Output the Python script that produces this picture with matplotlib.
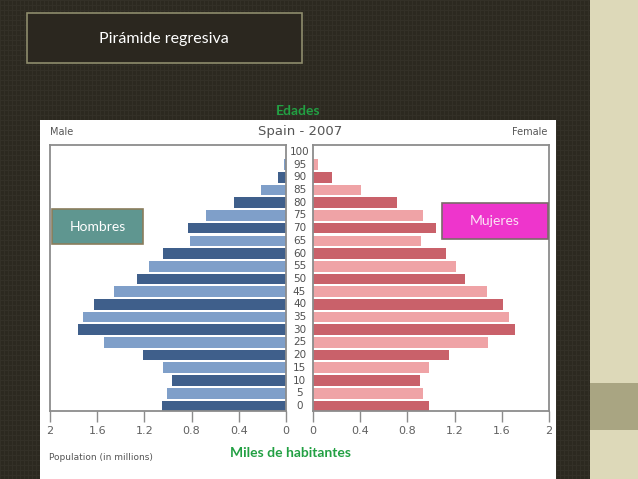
import numpy as np
import matplotlib
matplotlib.use("Agg")
import matplotlib.pyplot as plt
import matplotlib.transforms as mtransforms
from matplotlib.patches import Rectangle

# datos (millones de habitantes)
edades = [0, 5, 10, 15, 20, 25, 30, 35, 40, 45, 50, 55, 60, 65, 70, 75, 80, 85, 90, 95, 100]
hombres = [1.05, 1.01, 0.97, 1.04, 1.21, 1.54, 1.76, 1.72, 1.63, 1.46, 1.26, 1.16, 1.04, 0.81, 0.83, 0.68, 0.44, 0.21, 0.07, 0.02, 0.0]
mujeres = [0.98, 0.935, 0.91, 0.98, 1.155, 1.48, 1.71, 1.66, 1.61, 1.475, 1.29, 1.21, 1.13, 0.915, 1.04, 0.93, 0.71, 0.405, 0.16, 0.04, 0.0]
ticks_x = [0, 0.4, 0.8, 1.2, 1.6, 2]

W, H = 638, 479
fig = plt.figure(figsize=(W / 100, H / 100), dpi=100)
fig.patch.set_facecolor("#2c2920")


def fx(px):
    return px / W


def fy(py):
    return 1 - py / H


# fondo con textura
bg = fig.add_axes([0, 0, 1, 1], zorder=-10)
yy, xx = np.indices((H, W))
tex = ((xx % 4 == 0) | (yy % 5 == 0)).astype(float)
bg.imshow(tex, cmap=matplotlib.colors.ListedColormap(["#2c2920", "#333027"]),
          aspect="auto", interpolation="nearest")
bg.axis("off")

# panel derecho
fig.patches.append(Rectangle((fx(590), 0), 1 - fx(590), 1, transform=fig.transFigure,
                             facecolor="#ddd9b9", edgecolor="none", zorder=-5))
fig.patches.append(Rectangle((fx(590), fy(430)), 1 - fx(590), (430 - 383) / H,
                             transform=fig.transFigure, facecolor="#a9a582",
                             edgecolor="none", zorder=-4))

# caja del titulo
fig.patches.append(Rectangle((fx(27), fy(63)), (302 - 27) / W, (63 - 13) / H,
                             transform=fig.transFigure, facecolor="#2b271f",
                             edgecolor="#8e8c6c", linewidth=1.2, zorder=-3))
fig.text(fx(164), fy(39), "Pirámide regresiva", color="white", fontsize=11.5,
         family="Lato", ha="center", va="center")

# imagen blanca
fig.patches.append(Rectangle((fx(40), 0), (556 - 40) / W, fy(120),
                             transform=fig.transFigure, facecolor="white",
                             edgecolor="none", zorder=-2))

fig.text(fx(298.5), fy(111), "Edades", color="#22a043", fontsize=10,
         family="Lato", weight="bold", ha="center", va="center")
fig.text(fx(50), fy(132), "Male", color="#555555", fontsize=7, ha="left", va="center")
fig.text(fx(547), fy(132), "Female", color="#555555", fontsize=7, ha="right", va="center")
fig.text(fx(300), fy(131), "Spain - 2007", color="#555555", fontsize=9.5,
         ha="center", va="center")

y = np.arange(len(edades))
col_h = ["#3f5f8b" if e % 10 == 0 else "#7f9fc9" for e in edades]
col_m = ["#c9616a" if e % 10 == 0 else "#efa3a6" for e in edades]

rect_l = [fx(50), fy(411), (286 - 50) / W, (411 - 145) / H]
rect_r = [fx(313), fy(411), (549 - 313) / W, (411 - 145) / H]
ax_l = fig.add_axes(rect_l)
ax_r = fig.add_axes(rect_r)

ax_l.barh(y, hombres, height=0.84, color=col_h)
ax_r.barh(y, mujeres, height=0.84, color=col_m)
ax_l.set_xlim(2, 0)
ax_r.set_xlim(0, 2)

for ax in (ax_l, ax_r):
    ax.set_ylim(-0.4, 20.55)
    ax.set_yticks([])
    ax.set_xticks(ticks_x)
    ax.set_xticklabels([f"{t:g}" for t in ticks_x])
    ax.tick_params(axis="x", length=8, width=1, color="#8c8c8c", labelcolor="#606060",
                   labelsize=8, pad=3)
    for s in ax.spines.values():
        s.set_color("#8c8c8c")
        s.set_linewidth(1.3)

trans = mtransforms.blended_transform_factory(fig.transFigure, ax_l.transData)
for i, e in enumerate(edades):
    fig.text(fx(299.5), i, str(e), transform=trans, ha="center", va="center",
             fontsize=7.5, color="#505050")

# cajas de texto
fig.patches.append(Rectangle((fx(52), fy(244)), (143 - 52) / W, (244 - 209) / H,
                             transform=fig.transFigure, facecolor="#5f9690",
                             edgecolor="#8a7d5c", linewidth=1.2, zorder=5))
fig.text(fx(97.5), fy(227), "Hombres", color="white", fontsize=10, family="Lato",
         ha="center", va="center", zorder=6)
fig.patches.append(Rectangle((fx(442), fy(239)), (548 - 442) / W, (239 - 203) / H,
                             transform=fig.transFigure, facecolor="#ee35cc",
                             edgecolor="#7a6a6a", linewidth=1.2, zorder=5))
fig.text(fx(495), fy(221), "Mujeres", color="#fbe3f5", fontsize=10, family="Lato",
         ha="center", va="center", zorder=6)

fig.text(fx(49), fy(458), "Population (in millions)", color="#555555", fontsize=6.5,
         ha="left", va="center")
fig.text(fx(290), fy(453), "Miles de habitantes", color="#22a043", fontsize=10,
         family="Lato", weight="bold", ha="center", va="center")

fig.savefig("out.png", dpi=100, facecolor=fig.get_facecolor())
